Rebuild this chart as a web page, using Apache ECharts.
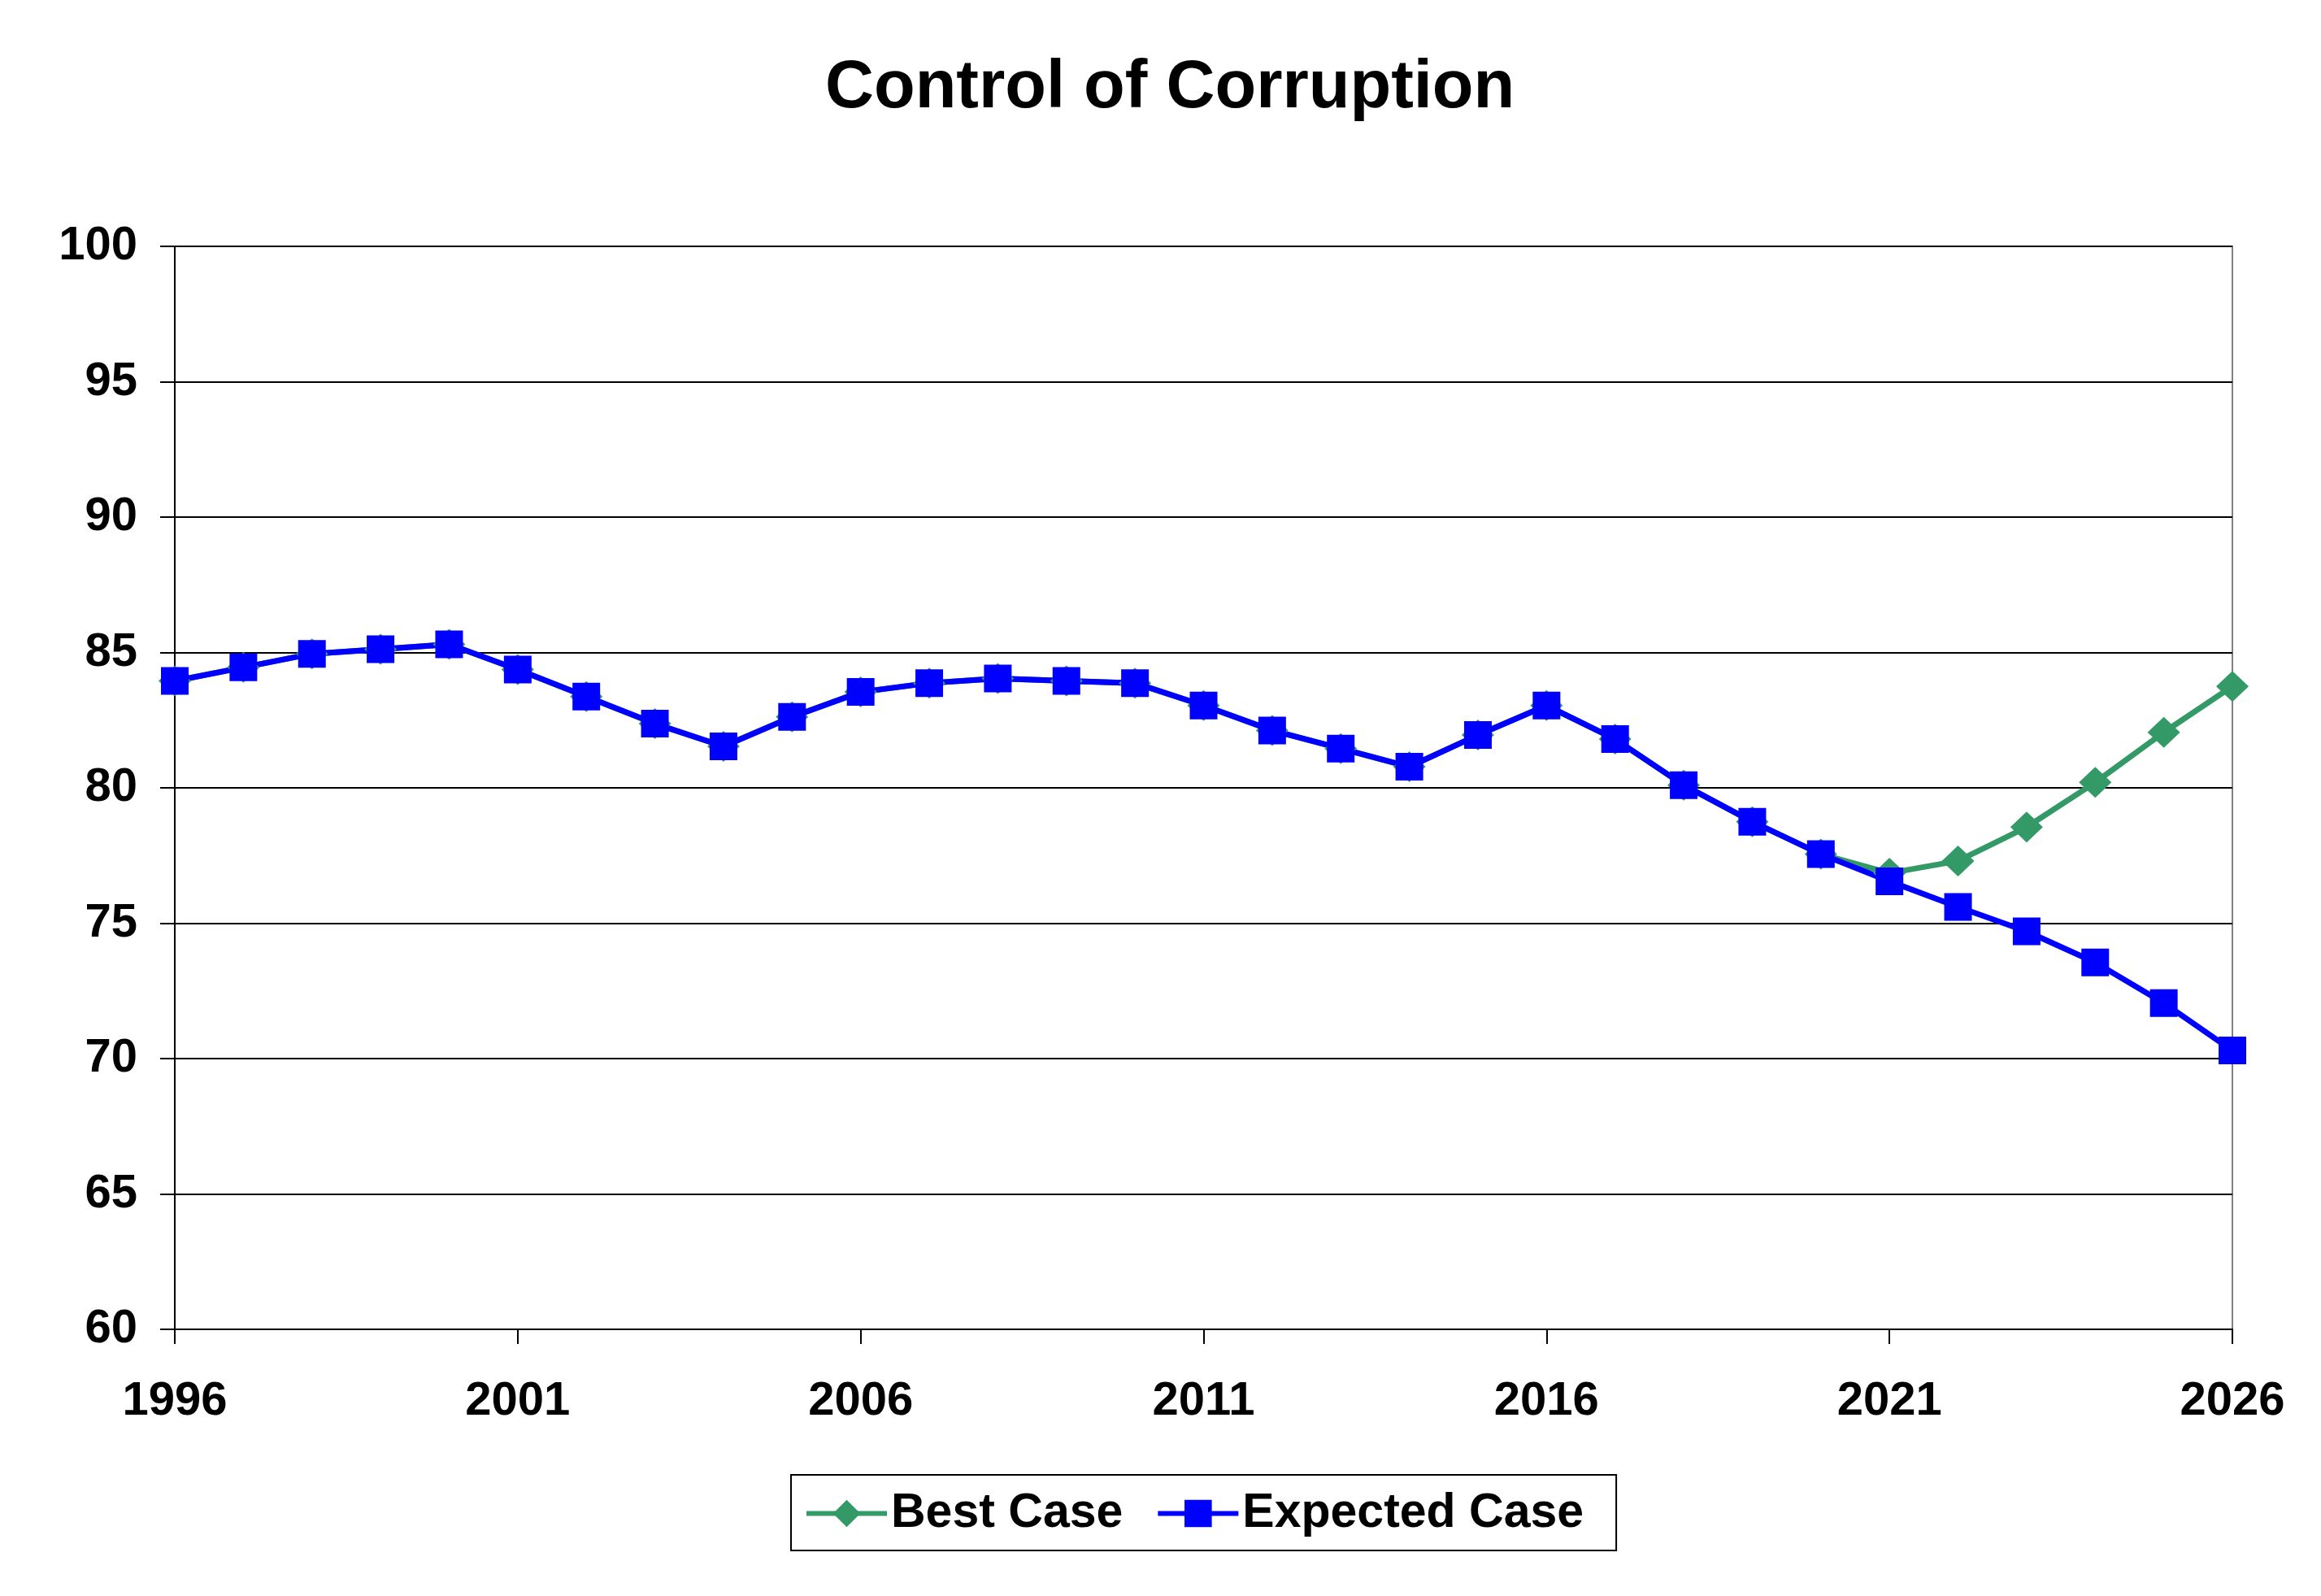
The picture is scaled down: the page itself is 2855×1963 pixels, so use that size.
<!DOCTYPE html>
<html>
<head>
<meta charset="utf-8">
<script src="https://cdn.jsdelivr.net/npm/echarts@6/dist/echarts.min.js"></script>
<style>
html,body{margin:0;padding:0;background:#fff;}
#chart{width:2855px;height:1963px;}
</style>
</head>
<body>
<div id="chart"></div>
<script>
const years = [1996,1997,1998,1999,2000,2001,2002,2003,2004,2005,2006,2007,2008,2009,2010,2011,2012,2013,2014,2015,2016,2017,2018,2019,2020,2021,2022,2023,2024,2025,2026].map(String);
const expectedCase = [83.95,84.45,84.95,85.12,85.3,84.37,83.37,82.37,81.53,82.62,83.54,83.87,84.04,83.95,83.87,83.04,82.12,81.45,80.78,81.95,83.04,81.8,80.1,78.75,77.55,76.55,75.6,74.7,73.55,72.05,70.3];
const bestCase = [83.95,84.45,84.95,85.12,85.3,84.37,83.37,82.37,81.53,82.62,83.54,83.87,84.04,83.95,83.87,83.04,82.12,81.45,80.78,81.95,83.04,81.8,80.1,78.75,77.55,76.85,77.3,78.55,80.2,82.05,83.75];
const yTicks = {min:60, max:100, interval:5};

const FONT = '"Liberation Sans", Arial, sans-serif';
const chart = echarts.init(document.getElementById('chart'), null, {renderer:'canvas'});
chart.setOption({
  backgroundColor:'#ffffff',
  animation:false,
  title:{
    text:'Control of Corruption',
    left:1010,
    top:63,
    textStyle:{fontFamily:FONT,fontWeight:'bold',fontSize:83,color:'#000'}
  },
  grid:{
    left:215, right:109, top:303, bottom:328,
    show:true, borderColor:'#808080', borderWidth:2, backgroundColor:'transparent'
  },
  legend:{
    data:['Best Case','Expected Case'],
    left:973, top:1814,
    padding:[18,40,16,16],
    borderColor:'#000', borderWidth:2,
    itemWidth:99, itemHeight:42, itemGap:40,
    lineStyle:{width:6},
    textStyle:{fontFamily:FONT,fontWeight:'bold',fontSize:59,color:'#000',padding:[0,0,0,0]}
  },
  xAxis:{
    type:'category',
    data:years,
    boundaryGap:false,
    axisLine:{lineStyle:{color:'#000',width:2}},
    axisTick:{show:true,interval:4,length:18,lineStyle:{color:'#000',width:2}},
    axisLabel:{interval:4,margin:60,fontFamily:FONT,fontWeight:'bold',fontSize:58,color:'#000'},
    splitLine:{show:false}
  },
  yAxis:{
    type:'value',
    min:yTicks.min, max:yTicks.max, interval:yTicks.interval,
    axisLine:{show:true,lineStyle:{color:'#000',width:2}},
    axisTick:{show:true,length:18,lineStyle:{color:'#000',width:2}},
    axisLabel:{margin:46,fontFamily:FONT,fontWeight:'bold',fontSize:58,color:'#000'},
    splitLine:{show:true,lineStyle:{color:'#000',width:2}}
  },
  series:[
    {
      name:'Best Case', type:'line', data:bestCase,
      symbol:'diamond', symbolSize:[40,38],
      lineStyle:{color:'#339966',width:7},
      itemStyle:{color:'#339966'}
    },
    {
      name:'Expected Case', type:'line', data:expectedCase,
      symbol:'rect', symbolSize:34,
      lineStyle:{color:'#0000ff',width:7},
      itemStyle:{color:'#0000ff'}
    }
  ]
});
</script>
</body>
</html>
